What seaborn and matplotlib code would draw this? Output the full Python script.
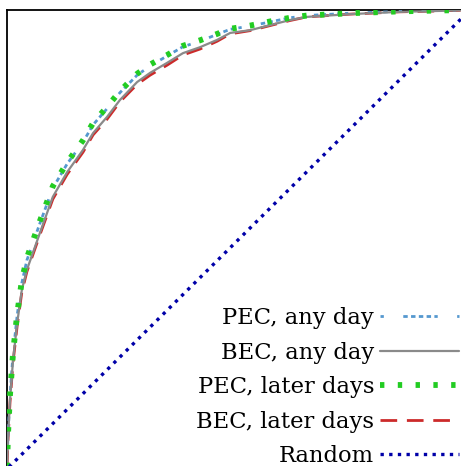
import matplotlib
matplotlib.use("Agg")
import matplotlib.pyplot as plt
import seaborn as sns

# ---- data ----
fpr = [0, 0.002, 0.0065, 0.013, 0.022, 0.032, 0.043, 0.071, 0.099, 0.130, 0.164,
       0.186, 0.216, 0.244, 0.281, 0.309, 0.346, 0.380, 0.417, 0.454, 0.482,
       0.525, 0.568, 0.611, 0.648, 0.741, 0.849, 0.935, 1.0]
tpr_pec_any = [0, 0.070, 0.160, 0.250, 0.335, 0.405, 0.455, 0.535, 0.612, 0.665, 0.712,
               0.750, 0.785, 0.820, 0.858, 0.878, 0.900, 0.920, 0.932, 0.947, 0.958,
               0.965, 0.974, 0.983, 0.988, 0.993, 0.997, 0.999, 1.0]
tpr_bec_any = [0, 0.063, 0.150, 0.237, 0.318, 0.390, 0.434, 0.514, 0.593, 0.647, 0.695,
               0.732, 0.767, 0.804, 0.843, 0.863, 0.885, 0.906, 0.919, 0.935, 0.950,
               0.956, 0.967, 0.978, 0.985, 0.991, 0.996, 0.998, 1.0]
tpr_pec_later = [0, 0.072, 0.162, 0.252, 0.338, 0.410, 0.460, 0.540, 0.616, 0.668, 0.716,
                 0.754, 0.789, 0.823, 0.861, 0.881, 0.902, 0.922, 0.934, 0.948, 0.959,
                 0.966, 0.975, 0.983, 0.988, 0.993, 0.997, 0.999, 1.0]
tpr_bec_later = [0, 0.060, 0.145, 0.232, 0.312, 0.385, 0.430, 0.510, 0.588, 0.642, 0.690,
                 0.728, 0.762, 0.800, 0.838, 0.858, 0.880, 0.902, 0.915, 0.932, 0.948,
                 0.955, 0.966, 0.977, 0.985, 0.991, 0.996, 0.998, 1.0]
rand_x = [0, 1]
rand_y = [0, 1]
labels = ["PEC, any day", "BEC, any day", "PEC, later days", "BEC, later days", "Random"]

sns.set_theme(style="white")
plt.rcParams["font.family"] = ["DejaVu Serif"]
plt.rcParams["text.color"] = "black"

W, H = 461, 466
fig = plt.figure(figsize=(W / 100, H / 100), dpi=100)
# axes extend past the right/bottom of the picture (cropped figure)
left_px, top_px, w_px, h_px = 7, 10, 463, 459
ax = fig.add_axes([left_px / W, 1 - (top_px + h_px) / H, w_px / W, h_px / H])

sns.lineplot(x=fpr, y=tpr_pec_any, ax=ax, color="#5598cf", linewidth=2.0, sort=False,
             linestyle=(0, (1.2, 7, 1.6, 1.2, 1.6, 1.2, 1.6, 1.2, 1.6, 1.2)),
             label=labels[0], zorder=3)
sns.lineplot(x=fpr, y=tpr_bec_later, ax=ax, color="#cc2a2a", linewidth=2.0, sort=False,
             linestyle=(0, (6, 3.5)), label=labels[3], zorder=2)
sns.lineplot(x=fpr, y=tpr_bec_any, ax=ax, color="#8a8a8a", linewidth=1.6, sort=False,
             linestyle="-", label=labels[1], zorder=4)
sns.lineplot(x=fpr, y=tpr_pec_later, ax=ax, color="#22cc22", linewidth=4.2, sort=False,
             linestyle=(0, (0.75, 2.3)), label=labels[2], zorder=5)
sns.lineplot(x=rand_x, y=rand_y, ax=ax, color="#0000a8", linewidth=2.4, sort=False,
             linestyle=(0, (1.0, 1.6)), label=labels[4], zorder=6)

ax.set_xlim(0, 1)
ax.set_ylim(0, 1)
ax.set_xticks([])
ax.set_yticks([])
for s in ["left", "top"]:
    ax.spines[s].set_color("black")
    ax.spines[s].set_linewidth(1.3)
for s in ["right", "bottom"]:
    ax.spines[s].set_visible(False)

handles, labs = ax.get_legend_handles_labels()
order = [labs.index(l) for l in labels]
leg = ax.legend([handles[i] for i in order], [labs[i] for i in order],
                loc="lower right",
                bbox_to_anchor=((459 - left_px) / w_px, 2 / h_px),
                frameon=False, markerfirst=False, fontsize=16.3,
                handlelength=3.5, handletextpad=0.25, labelspacing=0.55,
                borderpad=0.0, borderaxespad=0.0)
for t in leg.get_texts():
    t.set_color("black")

fig.savefig("out.png", dpi=100)
